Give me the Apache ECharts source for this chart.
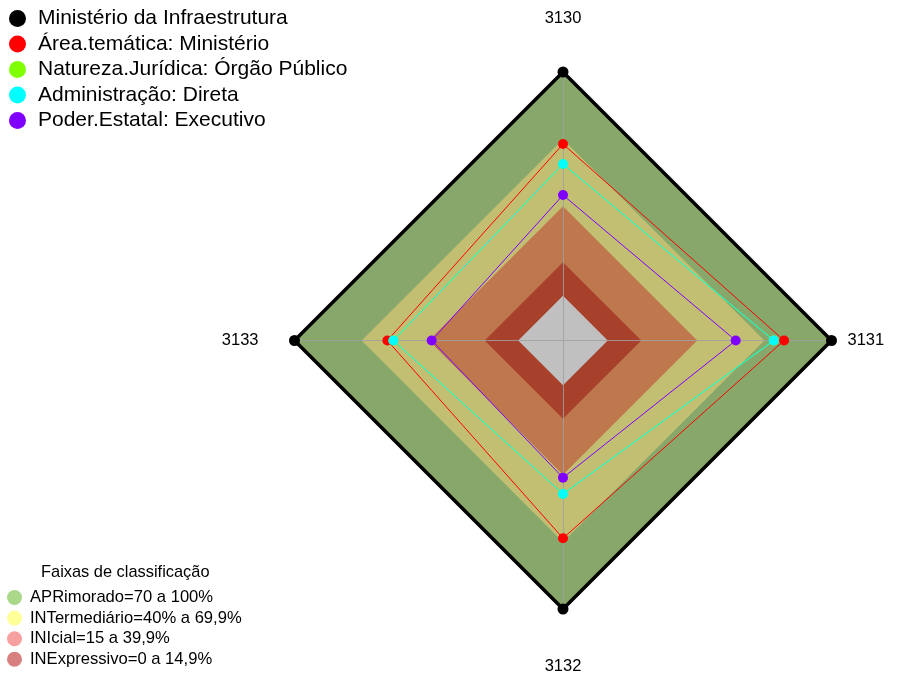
<!DOCTYPE html>
<html>
<head>
<meta charset="utf-8">
<script src="https://cdn.jsdelivr.net/npm/echarts@6/dist/echarts.min.js"></script>
<style>
  html, body { margin: 0; padding: 0; background: #fff; }
  #chart { width: 904px; height: 673px; }
</style>
</head>
<body>
<div id="chart"></div>
<script>
// eixos (sentido horario a partir do topo)
var categories = ['3130', '3131', '3132', '3133'];

// series
var seriesNames = [
  'Ministério da Infraestrutura',
  'Área.temática: Ministério',
  'Natureza.Jurídica: Órgão Público',
  'Administração: Direta',
  'Poder.Estatal: Executivo'
];
var infraestrutura = [100, 100, 100, 100];
var areaTematica = [67.8, 78.8, 68.4, 58.5];
var naturezaJuridica = [58.9, 74.2, 48.6, 55.8];
var administracao = [58.9, 74.2, 48.6, 55.8];
var poderEstatal = [45.0, 57.2, 41.3, 38.7];
var seriesColors = ['#000000', '#ff0000', '#80ff00', '#00ffff', '#8000ff'];

// faixas de classificacao
var bandNames = [
  'APRimorado=70 a 100%',
  'INTermediário=40% a 69,9%',
  'INIcial=15 a 39,9%',
  'INExpressivo=0 a 14,9%'
];
var bandLimits = [100, 70, 40, 15, 0];
var bandFill = ['#87a86a', '#c3bf72', '#bf784e', '#a8412c', '#c0c0c0'];
var bandLegendColors = ['#a8d888', '#ffff99', '#f7a0a0', '#d88080'];

// echarts desenha os eixos no sentido anti-horario -> reordena
var order = [0, 3, 2, 1];
function reorder(arr) { return order.map(function (i) { return arr[i]; }); }

var labelRich = {
  t: { padding: [0, 0, 31, 0], fontSize: 16.5 },
  r: { padding: [0, 0, 0, 2], fontSize: 16.5 },
  b: { padding: [35, 0, 0, 0], fontSize: 16.5 },
  l: { padding: [0, 22, 0, 0], fontSize: 16.5 }
};
var labelKey = { '3130': 't', '3131': 'r', '3132': 'b', '3133': 'l' };

var myChart = echarts.init(document.getElementById('chart'));

var series = [];
// faixas de fundo
bandLimits.forEach(function (lim, k) {
  series.push({
    type: 'radar',
    name: k < bandNames.length ? bandNames[k] : 'centro',
    z: 1,
    silent: true,
    symbol: 'none',
    color: k < bandNames.length ? bandLegendColors[k] : bandFill[k],
    lineStyle: { width: 0 },
    areaStyle: { color: bandFill[k], opacity: 1 },
    data: [{ value: reorder([lim, lim, lim, lim]) }]
  });
});

var dataSets = [infraestrutura, areaTematica, naturezaJuridica, administracao, poderEstatal];
dataSets.forEach(function (vals, k) {
  series.push({
    type: 'radar',
    name: seriesNames[k],
    z: 3,
    symbol: 'circle',
    symbolSize: k === 0 ? 11 : 10,
    color: seriesColors[k],
    lineStyle: { width: k === 0 ? 3.5 : 1, color: seriesColors[k] },
    itemStyle: { color: seriesColors[k] },
    data: [{ value: reorder(vals) }]
  });
});

myChart.setOption({
  animation: false,
  backgroundColor: '#ffffff',
  textStyle: { fontFamily: 'Liberation Sans, Arial, sans-serif', color: '#000' },
  title: {
    text: 'Faixas de classificação',
    left: 41,
    top: 564,
    padding: 0,
    textStyle: { fontSize: 16.4, fontWeight: 'normal', color: '#000', fontFamily: 'Liberation Sans, Arial, sans-serif' }
  },
  legend: [
    {
      data: seriesNames,
      orient: 'vertical',
      left: 9,
      top: 8,
      padding: 0,
      icon: 'circle',
      itemWidth: 17,
      itemHeight: 17,
      itemGap: 4.5,
      selectedMode: false,
      textStyle: { fontSize: 21, color: '#000', padding: [0, 0, 0, 7] }
    },
    {
      data: bandNames.map(function (n, k) { return { name: n, itemStyle: { color: bandLegendColors[k] } }; }),
      orient: 'vertical',
      left: 7,
      top: 589,
      padding: 0,
      icon: 'circle',
      itemWidth: 15,
      itemHeight: 15,
      itemGap: 3.6,
      selectedMode: false,
      textStyle: { fontSize: 16.6, color: '#000', padding: [0, 0, 0, 3] }
    }
  ],
  radar: {
    z: 2,
    center: [563, 340.5],
    radius: 268.5,
    startAngle: 90,
    shape: 'polygon',
    splitNumber: 4,
    axisNameGap: 14,
    indicator: reorder(categories).map(function (c) { return { name: c, min: -20, max: 100 }; }),
    axisName: {
      color: '#000',
      fontSize: 16.5,
      formatter: function (name) { return '{' + labelKey[name] + '|' + name + '}'; },
      rich: labelRich
    },
    axisLine: { show: true, lineStyle: { color: 'rgba(160,160,160,0.85)', width: 1 } },
    axisTick: { show: false },
    axisLabel: { show: false },
    splitLine: { show: false },
    splitArea: { show: false }
  },
  series: series
});
</script>
</body>
</html>
